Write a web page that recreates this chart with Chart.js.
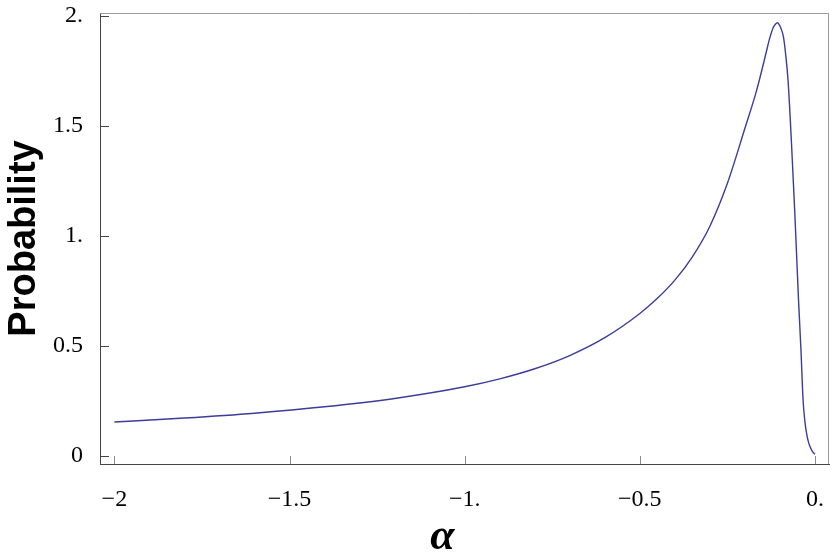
<!DOCTYPE html>
<html>
<head>
<meta charset="utf-8">
<script src="https://cdn.jsdelivr.net/npm/chart.js@4.4.1/dist/chart.umd.min.js"></script>
<style>
  html, body { margin: 0; padding: 0; background: #fff; }
  #wrap { width: 830px; height: 557px; }
</style>
</head>
<body>
<div id="wrap"><canvas id="probChart" width="830" height="557"></canvas></div>
<script>
// valeurs
var alphaValues = [-2.0, -1.8, -1.6, -1.4, -1.2, -1.0, -0.9, -0.8, -0.7, -0.6, -0.5, -0.45, -0.4, -0.35, -0.3, -0.25, -0.2, -0.167, -0.14, -0.13, -0.12, -0.113, -0.107, -0.1, -0.095, -0.09, -0.084, -0.077, -0.067, -0.058, -0.047, -0.04, -0.034, -0.029, -0.024, -0.019, -0.014, -0.007, 0.0];
var probValues  = [0.155, 0.173, 0.195, 0.224, 0.262, 0.315, 0.351, 0.397, 0.457, 0.538, 0.648, 0.717, 0.800, 0.906, 1.045, 1.24, 1.49, 1.66, 1.83, 1.895, 1.945, 1.963, 1.97, 1.955, 1.935, 1.905, 1.83, 1.71, 1.42, 1.12, 0.71, 0.48, 0.255, 0.16, 0.103, 0.066, 0.042, 0.02, 0.008];

var xTickValues = [-2, -1.5, -1, -0.5, 0];
var xTickLabels = ['\u22122', '\u22121.5', '\u22121.', '\u22120.5', '0.'];
var yTickValues = [0, 0.5, 1, 1.5, 2];
var yTickLabels = ['0', '0.5', '1.', '1.5', '2.'];

var points = alphaValues.map(function (a, i) { return { x: a, y: probValues[i] }; });

function noPad(s) {
  s.paddingTop = 0; s.paddingBottom = 0; s.paddingLeft = 0; s.paddingRight = 0;
}

// cadre haut/droite + graduations vers l'intérieur
var frameTicks = {
  id: 'frameTicks',
  afterDraw: function (chart) {
    var ctx = chart.ctx, ca = chart.chartArea;
    var xs = chart.scales.x, ys = chart.scales.y;
    ctx.save();
    ctx.lineWidth = 1;
    ctx.strokeStyle = '#9a9a9a';
    ctx.beginPath();
    ctx.moveTo(ca.left, ca.top + 0.5);
    ctx.lineTo(ca.right - 0.5, ca.top + 0.5);
    ctx.lineTo(ca.right - 0.5, ca.bottom);
    ctx.stroke();

    ctx.strokeStyle = '#8c8c8c';
    xTickValues.forEach(function (v) {
      var px = Math.round(xs.getPixelForValue(v)) + 0.5;
      ctx.beginPath();
      ctx.moveTo(px, ca.bottom);
      ctx.lineTo(px, ca.bottom - 8);
      ctx.stroke();
    });
    ctx.strokeStyle = '#444';
    yTickValues.forEach(function (v) {
      var py = Math.round(ys.getPixelForValue(v)) + 0.5;
      ctx.beginPath();
      ctx.moveTo(ca.left, py);
      ctx.lineTo(ca.left + 9, py);
      ctx.stroke();
    });
    ctx.restore();
  }
};

new Chart(document.getElementById('probChart'), {
  type: 'line',
  data: {
    datasets: [{
      data: points,
      borderColor: 'rgb(60,60,155)',
      borderWidth: 1.4,
      pointRadius: 0,
      fill: false,
      cubicInterpolationMode: 'monotone'
    }]
  },
  options: {
    responsive: false,
    animation: false,
    layout: { padding: { top: 13, right: 1, left: 0, bottom: 0 } },
    plugins: { legend: { display: false }, tooltip: { enabled: false } },
    scales: {
      x: {
        type: 'linear',
        min: -2.041, max: 0.04,
        afterFit: function (s) { s.height = 93; noPad(s); },
        afterBuildTicks: function (s) { s.ticks = xTickValues.map(function (v) { return { value: v }; }); },
        grid: { display: false },
        border: { display: true, color: '#444', width: 1 },
        ticks: {
          padding: 13,
          maxRotation: 0,
          autoSkip: false,
          color: '#000',
          font: { family: 'Liberation Serif', size: 24 },
          callback: function (v) { var i = xTickValues.indexOf(v); return i >= 0 ? xTickLabels[i] : ''; }
        },
        title: {
          display: true,
          text: '\u03b1    ',
          color: '#000',
          padding: { top: 0, bottom: 0 },
          font: { family: 'Liberation Serif', size: 44, style: 'italic', weight: 'bold', lineHeight: 0.9 }
        }
      },
      y: {
        min: -0.036, max: 2.014,
        afterFit: function (s) { s.width = 100; noPad(s); },
        afterBuildTicks: function (s) { s.ticks = yTickValues.map(function (v) { return { value: v }; }); },
        grid: { display: false },
        border: { display: true, color: '#444', width: 1 },
        ticks: {
          padding: 9,
          autoSkip: false,
          color: '#000',
          font: { family: 'Liberation Serif', size: 24 },
          callback: function (v) { var i = yTickValues.indexOf(v); return i >= 0 ? yTickLabels[i] : ''; }
        },
        title: {
          display: true,
          text: 'Probability',
          color: '#000',
          padding: { top: 2, bottom: 0 },
          font: { family: 'Liberation Sans', size: 38, weight: 'bold', lineHeight: 1.2 }
        }
      }
    }
  },
  plugins: [frameTicks]
});
</script>
</body>
</html>
